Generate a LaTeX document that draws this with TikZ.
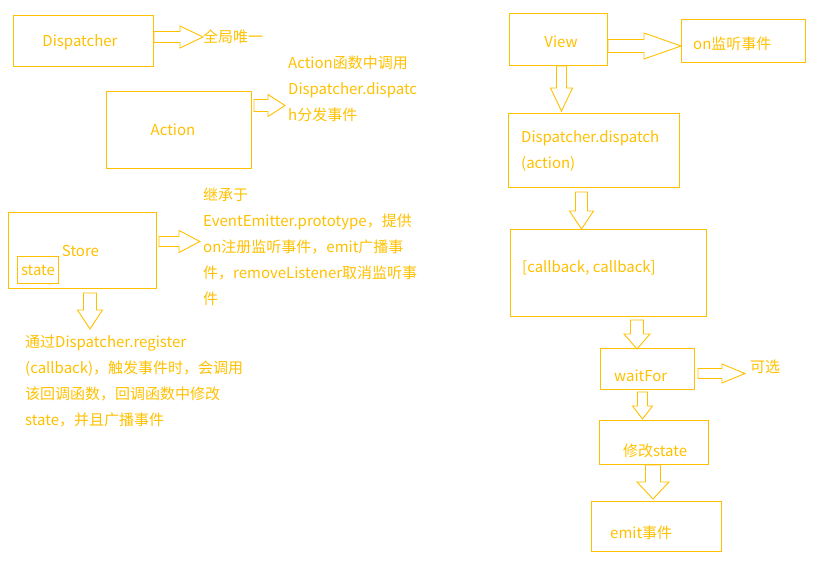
\documentclass[tikz,border=0pt]{standalone}
\usepackage{fontspec}
\newfontfamily\cjk{Noto Sans CJK SC}
\usetikzlibrary{calc}
\definecolor{flux}{RGB}{255,192,0}
\tikzset{
  box/.style={draw=flux, line width=1pt, inner sep=0pt, anchor=north west},
  txt/.style={text=flux, font=\cjk\fontsize{15}{26}\selectfont, inner sep=0pt},
  note/.style={txt, anchor=west, align=left},
  blockarrow/.style={draw=flux, line width=0.9pt, fill=white, line join=miter}
}
% hollow block arrows: start, tip, shaft half width, head half width, head length
\newcommand\rarrow[5]{%
  \draw[blockarrow] let \p1=(#1), \p2=(#2) in
    (\x1,\y1+#3pt) -- (\x2-#5pt,\y1+#3pt) -- (\x2-#5pt,\y1+#4pt) -- (\x2,\y1)
    -- (\x2-#5pt,\y1-#4pt) -- (\x2-#5pt,\y1-#3pt) -- (\x1,\y1-#3pt) -- cycle;}
\newcommand\darrow[5]{%
  \draw[blockarrow] let \p1=(#1), \p2=(#2) in
    (\x1-#3pt,\y1) -- (\x1-#3pt,\y2+#5pt) -- (\x1-#4pt,\y2+#5pt) -- (\x1,\y2)
    -- (\x1+#4pt,\y2+#5pt) -- (\x1+#3pt,\y2+#5pt) -- (\x1+#3pt,\y1) -- cycle;}
\begin{document}
\begin{tikzpicture}[x=1pt, y=-1pt]
  \useasboundingbox (0,0) rectangle (821,562);

  % left column
  \node[box, minimum width=140pt, minimum height=51pt] (disp) at (13,15) {};
  \node[txt] (disptext) at (80,42) {Dispatcher};
  \node[note] (onlytext) at (203,37) {全局唯一};

  \node[box, minimum width=145pt, minimum height=77pt] (action) at (106,91) {};
  \node[txt] (actiontext) at (173,130) {Action};
  \node[note] (actionnote) at (288,88.5) {Action函数中调用\\Dispatcher.dispatc\\h分发事件};

  \node[box, minimum width=148pt, minimum height=76pt] (store) at (8,212) {};
  \node[txt] (storetext) at (80.5,251) {Store};
  \node[box, minimum width=41pt, minimum height=27pt, txt] (state) at (17,256) {state};
  \node[note] (storenote) at (203,246.5) {继承于\\EventEmitter.prototype，提供\\on注册监听事件，emit广播事\\件，removeListener取消监听事\\件};
  \node[note] (regnote) at (25,381) {通过Dispatcher.register\\(callback)，触发事件时，会调用\\该回调函数，回调函数中修改\\state，并且广播事件};
  \coordinate (regtip) at (89.5,329);

  % right column
  \node[box, minimum width=98pt, minimum height=52pt] (view) at (509,13) {};
  \node[txt] (viewtext) at (561,42) {View};
  \node[box, minimum width=124pt, minimum height=43pt] (on) at (681,19) {};
  \node[note] (ontext) at (693,44) {on监听事件};

  \node[box, minimum width=171pt, minimum height=74pt] (dd) at (508,113) {};
  \node[note] (ddtext) at (521,151) {Dispatcher.dispatch\\(action)};

  \node[box, minimum width=196pt, minimum height=87pt] (cb) at (510,229) {};
  \node[note] (cbtext) at (522,268) {[callback, callback]};

  \node[box, minimum width=94pt, minimum height=41pt] (wait) at (600,348) {};
  \node[note] (waittext) at (614,376) {waitFor};
  \node[note] (opttext) at (750,367) {可选};

  \node[box, minimum width=109pt, minimum height=44pt] (modify) at (599,420) {};
  \node[note] (modifytext) at (623,451) {修改state};

  \node[box, minimum width=130pt, minimum height=50pt] (emit) at (591,501) {};
  \node[note] (emittext) at (610,533) {emit事件};

  % arrows
  \rarrow{[yshift=4pt]disp.east}{onlytext.west}{5.5}{11}{23}
  \rarrow{[xshift=2pt,yshift=24.5pt]action.east}{[xshift=-3pt]actionnote.west}{6}{11}{17}
  \rarrow{[xshift=2pt,yshift=9pt]store.east}{[xshift=-3pt]storenote.west}{5}{11}{21}
  \darrow{[xshift=7.5pt,yshift=-4pt]store.south}{regtip}{6.5}{12.5}{19}

  \rarrow{[yshift=-6.5pt]view.east}{on.west}{6.5}{13}{37}
  \darrow{[xshift=3pt]view.south}{[yshift=2pt]dd.north}{5}{11}{23}
  \darrow{[xshift=-12.5pt,yshift=-4pt]dd.south}{cb.north}{6}{12}{18}
  \darrow{[xshift=28.5pt,yshift=-3pt]cb.south}{[yshift=-1pt]wait.north}{6.5}{13}{15}
  \rarrow{[xshift=3pt,yshift=-4.5pt]wait.east}{[xshift=-5pt]opttext.west}{5}{9.5}{23}
  \darrow{[xshift=-5pt,yshift=-2pt]wait.south}{[yshift=1pt]modify.north}{5}{10}{13}
  \darrow{[xshift=-1pt]modify.south}{[yshift=2pt]emit.north}{7.5}{16}{17}
\end{tikzpicture}
\end{document}
